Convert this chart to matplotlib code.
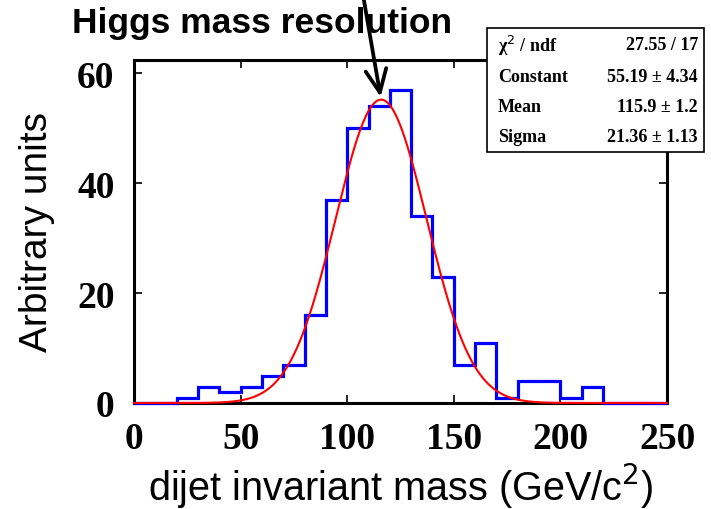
import numpy as np
import matplotlib

matplotlib.use("Agg")

import matplotlib.pyplot as plt
from matplotlib.patches import Rectangle


# 10 GeV bins from 0 to 250
bin_edges = np.arange(0, 260, 10)
counts = [0, 0, 1, 3, 2, 3, 5, 7, 16, 37, 50, 54, 57, 34, 23, 7, 11, 1, 4, 4, 1, 3, 0, 0, 0]

# gaussian fit result
fit_constant = 55.19
fit_mean = 115.9
fit_sigma = 21.36

stats_names = ["χ$^2$ / ndf", "Constant", "Mean", "Sigma"]
stats_values = ["27.55 / 17", "55.19 ± 4.34", "115.9 ± 1.2", "21.36 ± 1.13"]

x_ticks = [0, 50, 100, 150, 200, 250]
y_ticks = [0, 20, 40, 60]

W, H = 711, 510


def fx(px):
    return px / W


def fy(py):
    return 1 - py / H


def main():
    fig = plt.figure(figsize=(W / 100, H / 100), dpi=100)
    ax = fig.add_axes([fx(134), fy(404), fx(667) - fx(134), fy(61) - fy(404)])

    ax.stairs(counts, bin_edges, color="#0000ff", linewidth=2.3, clip_on=False, zorder=3)

    x = np.linspace(0, 250, 600)
    y = fit_constant * np.exp(-0.5 * ((x - fit_mean) / fit_sigma) ** 2)
    ax.plot(x, y, color="#ff0000", linewidth=1.5, clip_on=False, zorder=4)

    ax.set_xlim(0, 250)
    ax.set_ylim(0, 62.4)
    ax.set_xticks(x_ticks)
    ax.set_yticks(y_ticks)
    ax.tick_params(which="both", direction="in", top=True, right=True,
                   length=6, width=1.2)
    ax.tick_params(axis="x", pad=13)
    ax.tick_params(axis="y", pad=14)
    for lab in ax.get_xticklabels() + ax.get_yticklabels():
        lab.set_fontfamily("Liberation Serif")
        lab.set_fontweight("bold")
        lab.set_fontsize(27)
    for spine in ax.spines.values():
        spine.set_linewidth(2.2)

    ax.set_xlabel("dijet invariant mass (GeV/c$^2$)", fontsize=28.5,
                  fontfamily="Liberation Sans")
    ax.xaxis.set_label_coords(0.5, -0.168)
    ax.set_ylabel("Arbitrary units", fontsize=28, fontfamily="Liberation Sans")
    ax.yaxis.set_label_coords(-0.148, 0.5)

    fig.text(fx(72), fy(24), "Higgs mass resolution", fontsize=25.5,
             fontweight="bold", fontfamily="Liberation Sans",
             ha="left", va="center")

    # arrow pointing at the fitted peak
    ax.annotate(
        "", xy=(fit_mean, fit_constant), xycoords="data",
        xytext=(fx(363), fy(-4)), textcoords="figure fraction",
        arrowprops=dict(arrowstyle="->, head_length=1.1, head_width=0.5",
                        mutation_scale=15, lw=2.7, color="black",
                        shrinkA=0, shrinkB=2),
        annotation_clip=False, zorder=6,
    )

    # fit statistics box
    box = Rectangle((fx(487), fy(153)), fx(704) - fx(487), fy(29) - fy(153),
                    transform=fig.transFigure, facecolor="white",
                    edgecolor="black", linewidth=1.2, zorder=10)
    fig.add_artist(box)
    row_y = [46, 77, 108, 138]
    for name, value, py in zip(stats_names, stats_values, row_y):
        fig.text(fx(498), fy(py), name, fontsize=13, fontweight="bold",
                 fontfamily="Liberation Serif", ha="left", va="center", zorder=11)
        fig.text(fx(698), fy(py), value, fontsize=13, fontweight="bold",
                 fontfamily="Liberation Serif", ha="right", va="center", zorder=11)

    fig.savefig("out.png", dpi=100)
    plt.close(fig)


if __name__ == "__main__":
    main()
